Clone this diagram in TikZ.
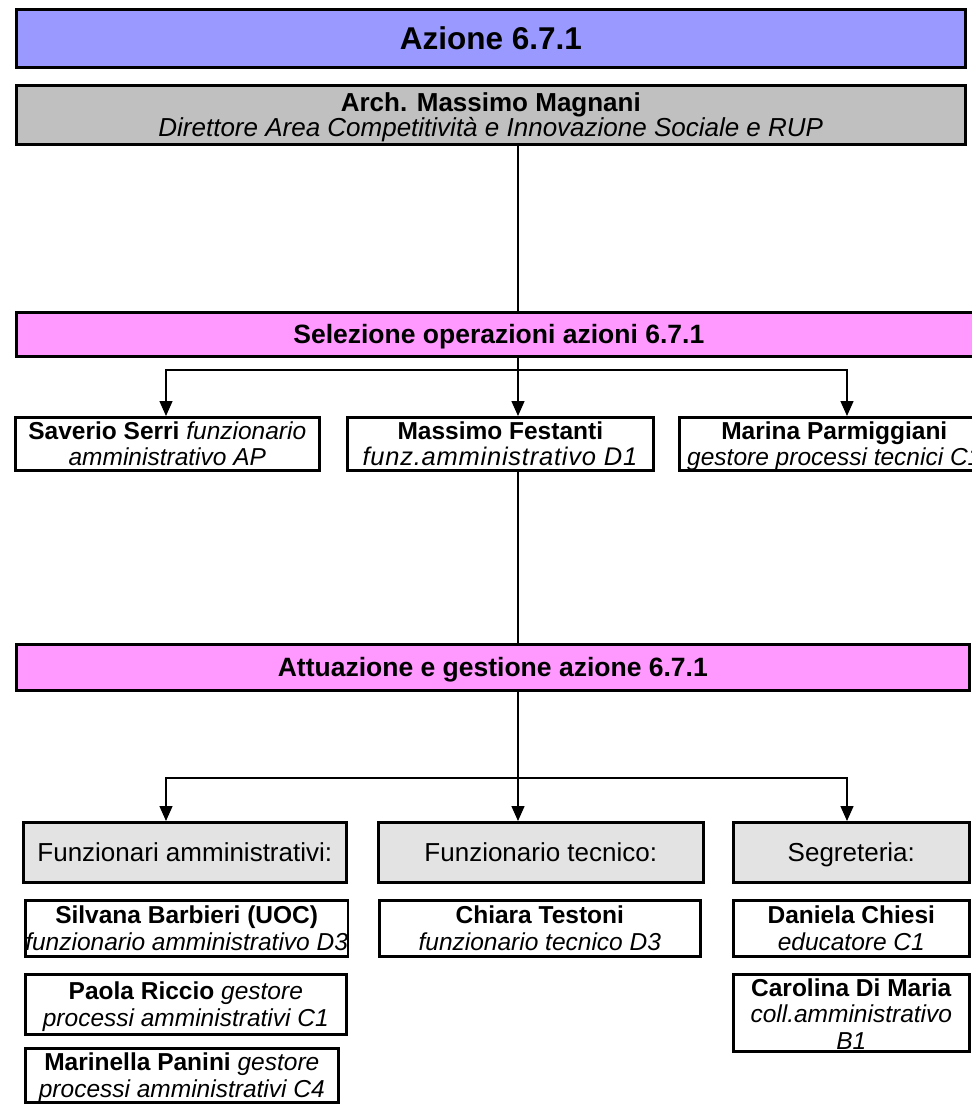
\documentclass[tikz,border=0pt]{standalone}
\usepackage{fontspec}
\setmainfont{Liberation Sans}
\usetikzlibrary{arrows.meta}

\definecolor{titlefill}{HTML}{9999FF}
\definecolor{headfill}{HTML}{C0C0C0}
\definecolor{phasefill}{HTML}{FF99FF}
\definecolor{groupfill}{HTML}{E3E3E3}

\newcommand{\titlefont}{\fontsize{31.5pt}{36pt}\selectfont\bfseries}
\newcommand{\headfont}{\fontsize{26pt}{25pt}\selectfont}
\newcommand{\phasefont}{\fontsize{26.5pt}{30pt}\selectfont\bfseries}
\newcommand{\personfont}{\fontsize{24.5pt}{26.5pt}\selectfont}
\newcommand{\groupfont}{\fontsize{26pt}{30pt}\selectfont}
\newcommand{\roleD}[1]{{\fontsize{25.5pt}{26.5pt}\selectfont\addfontfeature{LetterSpace=3}#1}}

\tikzset{
  orgbox/.style={draw, line width=2.6pt, rectangle, inner sep=0pt,
    anchor=north west, align=center, text depth=0pt},
  person/.style={orgbox, fill=white, font=\personfont},
  group/.style={orgbox, fill=groupfill, font=\groupfont},
  phase/.style={orgbox, fill=phasefill, font=\phasefont},
  link/.style={line width=1.4pt},
  arr/.style={line width=1.4pt, -{Triangle[length=15pt,width=13pt]}},
}

\begin{document}
\begin{tikzpicture}[x=1pt, y=-1pt]
\useasboundingbox (0,0) rectangle (972,1104);
\clip (0,0) rectangle (972,1104);

% column positions of the connectors
\coordinate (colL) at (166,0);
\coordinate (colC) at (518,0);
\coordinate (colR) at (847,0);
\coordinate (j1) at (518,370);
\coordinate (j2) at (518,778);

% header
\node[orgbox, fill=titlefill, font=\titlefont, minimum width=949pt, minimum height=58pt]
  (title) at (15,8) {Azione 6.7.1};
\node[orgbox, fill=headfill, font=\headfont, minimum width=949pt, minimum height=59pt]
  (boss) at (15,84) {\textbf{Arch. Massimo Magnani}\\\textit{Direttore Area Competitività e Innovazione Sociale e RUP}};

% selection phase
\node[phase, minimum width=965pt, minimum height=44pt] (sel) at (15,311)
  {Selezione operazioni azioni 6.7.1};
\node[person, minimum width=304pt, minimum height=53pt] (saverio) at (14,416)
  {\textbf{Saverio Serri} \textit{funzionario}\\\textit{amministrativo AP}};
\node[person, minimum width=306pt, minimum height=53pt] (massimo) at (346,416)
  {\textbf{Massimo Festanti}\\\textit{\roleD{funz.amministrativo D1}}};
\node[person, minimum width=310pt, minimum height=53pt] (marina) at (678,416)
  {\textbf{Marina Parmiggiani}\\\textit{gestore processi tecnici C1}};

% implementation phase
\node[phase, minimum width=953pt, minimum height=46pt] (attu) at (15,643)
  {Attuazione e gestione azione 6.7.1};
\node[group, minimum width=323pt, minimum height=60pt] (grpA) at (22,821)
  {Funzionari amministrativi:};
\node[group, minimum width=325pt, minimum height=60pt] (grpT) at (377,821)
  {Funzionario tecnico:};
\node[group, minimum width=236pt, minimum height=60pt] (grpS) at (732,821)
  {Segreteria:};

\node[person, minimum width=321pt, minimum height=56pt] (silvana) at (24,899)
  {\textbf{Silvana Barbieri (UOC)}\\\textit{funzionario amministrativo D3}};
\node[person, minimum width=321pt, minimum height=60pt] (paola) at (24,973)
  {\textbf{Paola Riccio} \textit{gestore}\\\textit{processi amministrativi C1}};
\node[person, minimum width=313pt, minimum height=54pt] (marinella) at (24,1047)
  {\textbf{Marinella Panini} \textit{gestore}\\\textit{processi amministrativi C4}};
\node[person, minimum width=321pt, minimum height=56pt] (chiara) at (378,899)
  {\textbf{Chiara Testoni}\\\textit{funzionario tecnico D3}};
\node[person, minimum width=236pt, minimum height=56pt] (daniela) at (732,899)
  {\textbf{Daniela Chiesi}\\\textit{educatore C1}};
\node[person, minimum width=236pt, minimum height=77pt, text height=75pt, text depth=2pt]
  (carolina) at (732,973)
  {\textbf{Carolina Di Maria}\\\textit{coll.amministrativo}\\\textit{B1}};

% connectors
\draw[link] (boss.south -| colC) -- (sel.north -| colC);
\draw[arr] (sel.south -| colC) -- (massimo.north -| colC);
\draw[arr] (j1) -| (saverio.north -| colL);
\draw[arr] (j1) -| (marina.north -| colR);

\draw[link] (massimo.south -| colC) -- (attu.north -| colC);
\draw[arr] (attu.south -| colC) -- (grpT.north -| colC);
\draw[arr] (j2) -| (grpA.north -| colL);
\draw[arr] (j2) -| (grpS.north -| colR);
\end{tikzpicture}
\end{document}
